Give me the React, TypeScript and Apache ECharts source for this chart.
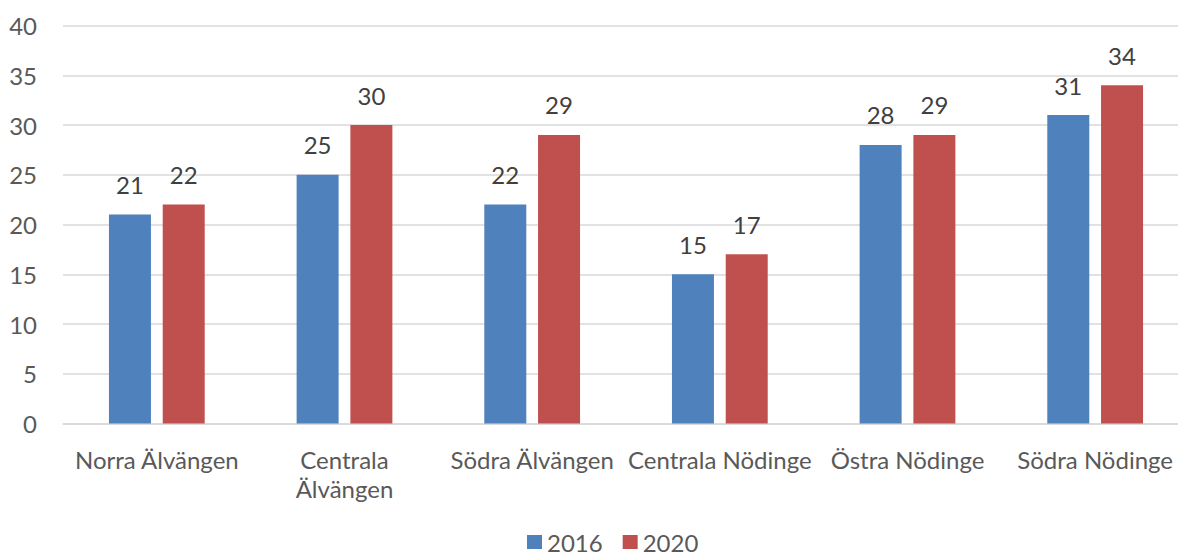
import React, { useEffect, useRef } from "react";
import * as echarts from "echarts";

const categories = [
  "Norra Älvängen",
  "Centrala Älvängen",
  "Södra Älvängen",
  "Centrala Nödinge",
  "Östra Nödinge",
  "Södra Nödinge",
];
const values2016 = [21, 25, 22, 15, 28, 31];
const values2020 = [22, 30, 29, 17, 29, 34];
const seriesNames = ["2016", "2020"];

export default function App() {
  const ref = useRef<HTMLDivElement>(null);
  useEffect(() => {
    document.body.style.margin = "0";
    document.body.style.overflow = "hidden";
    const chart = echarts.init(ref.current!, undefined, { renderer: "svg" });
    const font = "Lato, 'Open Sans', sans-serif";
    const labelStyle = {
      show: true,
      position: "top" as const,
      distance: 18,
      color: "#404040",
      fontSize: 24,
      fontFamily: font,
    };
    chart.setOption({
      animation: false,
      textStyle: { fontFamily: font },
      grid: { left: 63, right: 0, top: 25.5, bottom: 132.5 },
      legend: {
        bottom: 0,
        left: 527,
        padding: 0,
        itemWidth: 15,
        itemHeight: 14,
        itemGap: 20,
        icon: "rect",
        textStyle: {
          fontSize: 24,
          lineHeight: 28,
          color: "#595959",
          fontFamily: font,
        },
        data: seriesNames,
      },
      xAxis: {
        type: "category",
        data: categories,
        axisLine: { lineStyle: { color: "#D9D9D9", width: 1.5 } },
        axisTick: { show: false },
        axisLabel: {
          interval: 0,
          margin: 21,
          fontSize: 24,
          lineHeight: 29,
          color: "#595959",
          fontFamily: font,
          formatter: (v: string) =>
            v === "Centrala Älvängen" ? "Centrala\nÄlvängen" : v,
        },
      },
      yAxis: {
        type: "value",
        min: 0,
        max: 40,
        interval: 5,
        axisLine: { show: false },
        axisTick: { show: false },
        axisLabel: {
          margin: 26,
          fontSize: 24,
          color: "#595959",
          fontFamily: font,
        },
        splitLine: { lineStyle: { color: "#D9D9D9", width: 1.5 } },
      },
      series: [
        {
          name: seriesNames[0],
          type: "bar",
          data: values2016,
          barWidth: 42,
          barGap: "28%",
          itemStyle: { color: "#4F81BD" },
          label: labelStyle,
        },
        {
          name: seriesNames[1],
          type: "bar",
          data: values2020,
          barWidth: 42,
          barGap: "28%",
          itemStyle: { color: "#C0504D" },
          label: labelStyle,
        },
      ],
    });
    return () => chart.dispose();
  }, []);
  return <div ref={ref} style={{ width: 1189, height: 556 }} />;
}
